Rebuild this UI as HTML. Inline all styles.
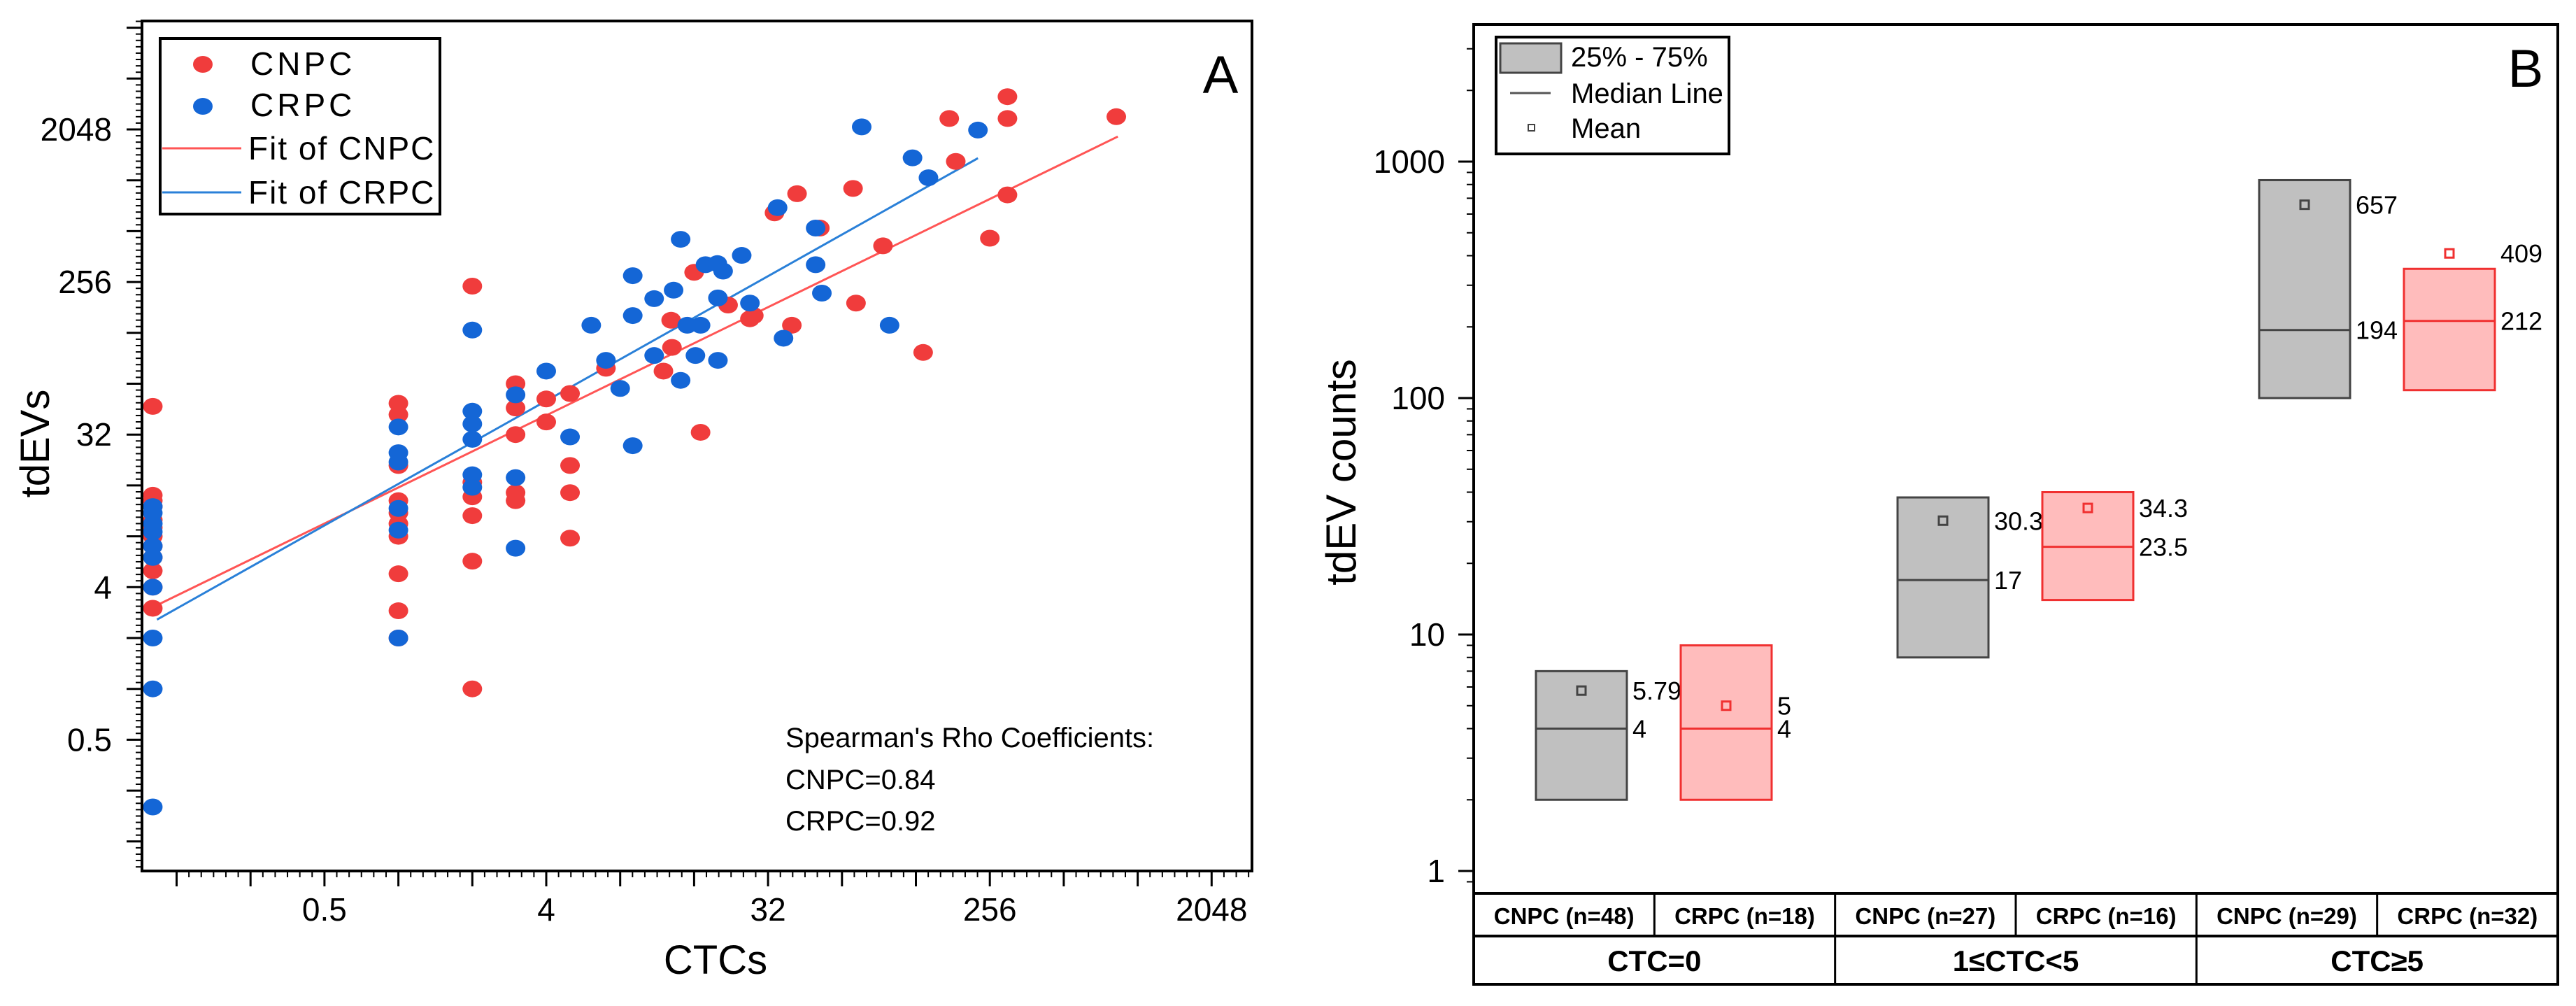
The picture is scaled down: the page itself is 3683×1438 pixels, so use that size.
<!DOCTYPE html>
<html><head><meta charset="utf-8"><style>
html,body{margin:0;padding:0;background:#fff;}
svg{display:block;font-family:"Liberation Sans",Arial,sans-serif;}
</style></head><body>
<svg id="chart" width="3683" height="1438" viewBox="0 0 3683 1438" xmlns="http://www.w3.org/2000/svg">
<rect x="0" y="0" width="3683" height="1438" fill="#fff"/>
<g id="panelA"></g>
<g id="panelB"></g>
</svg>
<script>
// ---------- Panel A data ----------
const cnpcX = [0.1,0.1,0.1,0.1,0.1,0.1,0.1,0.1,0.1,0.1,0.1,0.1,
  1,1,1,1,1,1,1,1,1,1,
  2,2,2,2,2,2,
  3,3,3,3,3,
  4,4,
  5,5,5,5,
  7,12,12.9,13,16,17,22,27,28,34,40,42,52,71,73,94,137,175,186,256,302,302,302,838];
const cnpcY = [47,14,13,12,10,9,8,7,6,5,4,3,
  49,42,21,13,11,9.5,8,4.8,2.9,2,
  242,16.7,13.7,10.6,5.7,1,
  64,46,32,14.5,13,
  52,38,
  56,21,14.5,7.8,
  79,76,152,105,292,33,187,155,162,657,142,853,534,916,192,419,98,2376,1324,465,3200,2376,839,2436];
const crpcX = [0.1,0.1,0.1,0.1,0.1,0.1,0.1,0.1,0.1,0.1,
  1,1,1,1,1,1,
  2,2,2,2,2,2,
  3,3,3,
  4,5,
  6.1,7,8,9,9,9,11,11,13.2,14.1,14.1,15,16.2,17,17.8,19.9,20,20,21,25,27,35,37,50,50,53,77,100,124,144,229];
const crpcY = [12,11,9.5,8.5,7,6,4,2,1,0.2,
  35.5,25,22,11.7,8.7,2,
  133,44,37,30,18.5,15.6,
  55,17.8,6.8,
  76,31,
  142,88,60,279,162,27.5,204,94,229,458,67,142,94,142,324,329,206,88,297,368,192,705,119,534,324,220,2120,142,1390,1060,2030];
// fit: log2(y) = intercept + slope*log2(x), drawn over x-range
const fitNames = ["CNPC","CRPC"];
const fitSlope = [0.709, 0.817];
const fitIntercept = [3.96, 4.03];
const fitXStart = [0.1, 0.104];
const fitXEnd = [850, 229];
const xTickLabelsA = [0.5,4,32,256,2048];
const yTickLabelsA = [0.5,4,32,256,2048];

// ---------- Panel B data ----------
const groupLabels = ["CTC=0","1\u2264CTC<5","CTC\u22655"];
const boxLabels = ["CNPC (n=48)","CRPC (n=18)","CNPC (n=27)","CRPC (n=16)","CNPC (n=29)","CRPC (n=32)"];
const boxQ1 = [2,2,8,14,100,108];
const boxQ3 = [7,9,38,40,835,352];
const boxMedian = [4,4,17,23.5,194,212];
const boxMean = [5.79,5,30.3,34.3,657,409];
const yTicksB = [1,10,100,1000];

const NS="http://www.w3.org/2000/svg";
function mk(parent,tag,attrs,text){const e=document.createElementNS(NS,tag);for(const k in attrs)e.setAttribute(k,attrs[k]);if(text!==undefined)e.textContent=text;parent.appendChild(e);return e;}

// ---------- Panel A ----------
const A=document.getElementById('panelA');
const aL=203,aR=1790,aT=30,aB=1245;
const xA=v=>781+(Math.log2(v)-2)*105.7;
const yA=v=>185+(11-Math.log2(v))*72.7;
let e;
// ticks
for(let k=-3;k<=11;k++){
  const x=xA(Math.pow(2,k));
  if(x>aL&&x<aR){e=mk(A,'line',{x1:x,y1:aB,x2:x,y2:aB+22,stroke:'#000','stroke-width':3});
  }
  for(let m=1;m<6;m++){const xm=xA(Math.pow(2,k+m/6));if(xm>aL&&xm<aR){e=mk(A,'line',{x1:xm,y1:aB,x2:xm,y2:aB+9,stroke:'#000','stroke-width':2});
  }}
}
for(let k=-4;k<=13;k++){
  const y=yA(Math.pow(2,k));
  if(y>aT&&y<aB){e=mk(A,'line',{x1:aL-22,y1:y,x2:aL,y2:y,stroke:'#000','stroke-width':3});
  }
  for(let m=1;m<8;m++){const ym=yA(Math.pow(2,k+m/8));if(ym>aT&&ym<aB){e=mk(A,'line',{x1:aL-9,y1:ym,x2:aL,y2:ym,stroke:'#000','stroke-width':2});
  }}
}
xTickLabelsA.forEach(v=>{e=mk(A,'text',{x:xA(v),y:1316,'font-size':46,'text-anchor':'middle'},String(v));
 });
yTickLabelsA.forEach(v=>{e=mk(A,'text',{x:160,y:yA(v)+16,'font-size':46,'text-anchor':'end'},String(v));
 });
e=mk(A,'text',{x:1023,y:1392,'font-size':58,'text-anchor':'middle'},'CTCs');

e=mk(A,'text',{x:0,y:0,'font-size':58,'text-anchor':'middle',transform:'translate(70,634) rotate(-90)'},'tdEVs');

// fits
const fitColors=['#ff5555','#2a80d8'];
fitNames.forEach((n,i)=>{
  const y1=Math.pow(2,fitIntercept[i]+fitSlope[i]*Math.log2(fitXStart[i]));
  const y2=Math.pow(2,fitIntercept[i]+fitSlope[i]*Math.log2(fitXEnd[i]));
  const ln=mk(A,'line',{x1:xA(fitXStart[i]),y1:yA(y1),x2:xA(fitXEnd[i]),y2:yA(y2),stroke:fitColors[i],'stroke-width':3});
  
  
});
// points
function pts(xs,ys,col,name){xs.forEach((x,i)=>{const c=mk(A,'ellipse',{cx:xA(x),cy:yA(ys[i]),rx:14,ry:12,fill:col});
  
  });}
pts(cnpcX,cnpcY,'#f03c3c','cnpc-point');
pts(crpcX,crpcY,'#1466d6','crpc-point');
// frame
e=mk(A,'rect',{x:aL,y:aT,width:aR-aL,height:aB-aT,fill:'none',stroke:'#000','stroke-width':4});

// legend
const lg=mk(A,'g',{});
mk(lg,'rect',{x:229,y:55,width:400,height:251,fill:'#fff',stroke:'#000','stroke-width':4});
mk(lg,'ellipse',{cx:290,cy:92,rx:14,ry:12,fill:'#f03c3c'});
mk(lg,'ellipse',{cx:290,cy:152,rx:14,ry:12,fill:'#1466d6'});
mk(lg,'line',{x1:232,y1:212,x2:345,y2:212,stroke:'#ff5555','stroke-width':3});
mk(lg,'line',{x1:232,y1:275,x2:345,y2:275,stroke:'#2a80d8','stroke-width':3});
[['CNPC',107],['CRPC',166],['Fit of CNPC',228],['Fit of CRPC',291]].forEach(([t,y])=>{
  e=mk(lg,'text',{x:t.length>4?355:358,y:y,'font-size':46,'letter-spacing':t.length>4?2:5},t);
  });
e=mk(A,'text',{x:1745,y:133,'font-size':76,'text-anchor':'middle'},'A');

[["Spearman's Rho Coefficients:",1068],['CNPC=0.84',1128],['CRPC=0.92',1187]].forEach(([t,y])=>{
  e=mk(A,'text',{x:1123,y:y,'font-size':40},t);
  });

// ---------- Panel B ----------
const B=document.getElementById('panelB');
const bL=2107,bR=3657,bT=35,bAx=1277;
const yB=v=>1245-Math.log10(v)*338;
const boxCenters=[];
for(let i=0;i<6;i++){boxCenters.push(2261+Math.floor(i/2)*517+(i%2)*207);}
const bw=130;
// ticks
for(let d=-1;d<=3;d++){
  for(let m=1;m<10;m++){const v=m*Math.pow(10,d);const y=yB(v);if(y>bT&&y<bAx){
    e=mk(B,'line',{x1:bL-(m===1?22:10),y1:y,x2:bL,y2:y,stroke:'#000','stroke-width':m===1?3:2});
    }}
}
yTicksB.forEach(v=>{e=mk(B,'text',{x:2066,y:yB(v)+16,'font-size':46,'text-anchor':'end'},String(v));
  });
e=mk(B,'text',{x:0,y:0,'font-size':60,'text-anchor':'middle',transform:'translate(1938,675) rotate(-90)'},'tdEV counts');

// boxes
for(let i=0;i<6;i++){
  const red=i%2===1;const cx=boxCenters[i];
  const fill=red?'#ffbcbc':'#c0c0c0',st=red?'#f03030':'#444';
  const r=mk(B,'rect',{x:cx-bw/2,y:yB(boxQ3[i]),width:bw,height:yB(boxQ1[i])-yB(boxQ3[i]),fill:fill,stroke:st,'stroke-width':3});
  
  
  const md=mk(B,'line',{x1:cx-bw/2,y1:yB(boxMedian[i]),x2:cx+bw/2,y2:yB(boxMedian[i]),stroke:st,'stroke-width':3});
  
  
  const mn=mk(B,'rect',{x:cx-6,y:yB(boxMean[i])-6,width:12,height:12,fill:'none',stroke:st,'stroke-width':3});
  
  
  const lm=mk(B,'text',{x:cx+bw/2+8,y:yB(boxMean[i])+13,'font-size':36},String(boxMean[i]));
  
  
  const ld=mk(B,'text',{x:cx+bw/2+8,y:yB(boxMedian[i])+13,'font-size':36},String(boxMedian[i]));
  
  
}
// frame and table
e=mk(B,'rect',{x:bL,y:bT,width:bR-bL,height:1407-bT,fill:'none',stroke:'#000','stroke-width':4});

mk(B,'line',{x1:bL,y1:bAx,x2:bR,y2:bAx,stroke:'#000','stroke-width':4});
mk(B,'line',{x1:bL,y1:1338,x2:bR,y2:1338,stroke:'#000','stroke-width':4});
const colW=(bR-bL)/6;
for(let i=1;i<6;i++){const x=bL+colW*i;mk(B,'line',{x1:x,y1:bAx,x2:x,y2:i%2===0?1407:1338,stroke:'#000','stroke-width':3});}
boxLabels.forEach((t,i)=>{e=mk(B,'text',{x:bL+colW*(i+0.5),y:1321,'font-size':33,'font-weight':'bold','text-anchor':'middle'},t);
  });
groupLabels.forEach((t,i)=>{e=mk(B,'text',{x:bL+colW*(2*i+1),y:1388,'font-size':42,'font-weight':'bold','text-anchor':'middle'},t);
  });
// legend
const lb=mk(B,'g',{});
mk(lb,'rect',{x:2139,y:53,width:333,height:167,fill:'#fff',stroke:'#000','stroke-width':4});
mk(lb,'rect',{x:2145,y:62,width:87,height:42,fill:'#c0c0c0',stroke:'#444','stroke-width':3});
mk(lb,'line',{x1:2159,y1:133,x2:2217,y2:133,stroke:'#555','stroke-width':3});
mk(lb,'rect',{x:2185,y:178,width:9,height:9,fill:'none',stroke:'#444','stroke-width':2});
[['25% - 75%',95],['Median Line',147],['Mean',197]].forEach(([t,y])=>{
  e=mk(lb,'text',{x:2246,y:y,'font-size':40},t);
  });
e=mk(B,'text',{x:3611,y:124,'font-size':76,'text-anchor':'middle'},'B');

</script>
</body></html>
